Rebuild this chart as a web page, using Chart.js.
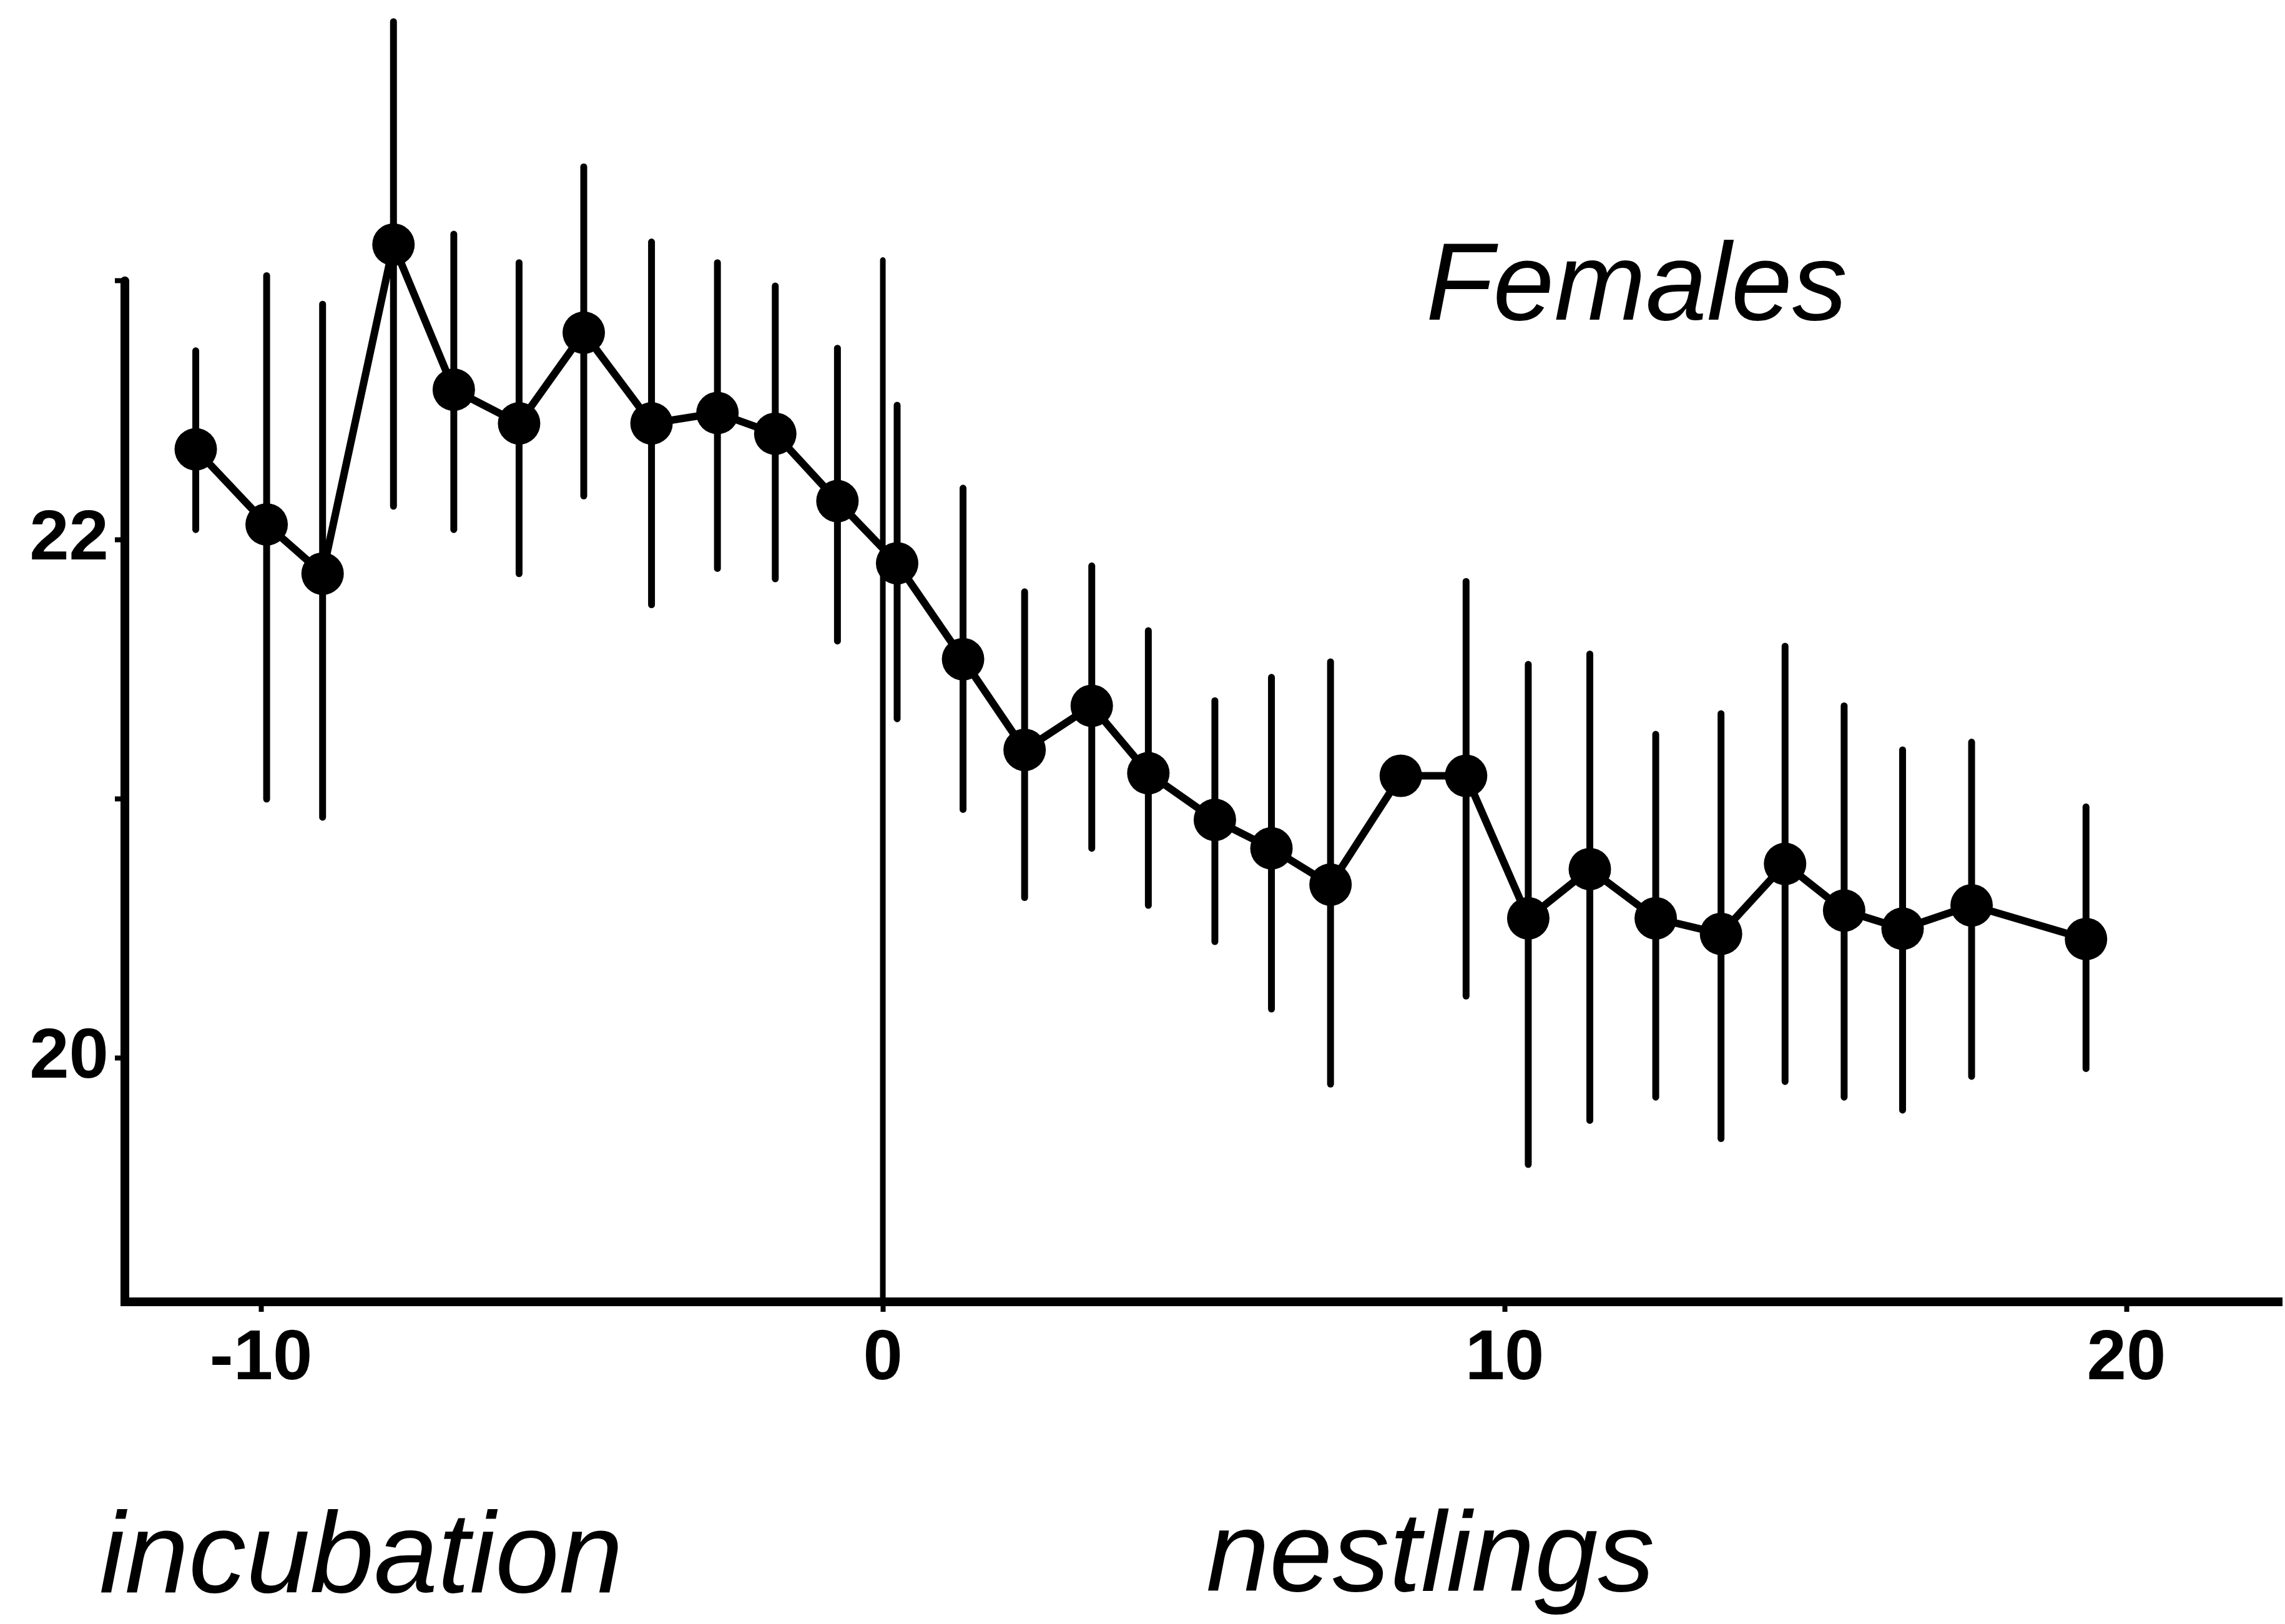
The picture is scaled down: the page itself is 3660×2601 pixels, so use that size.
<!DOCTYPE html>
<html>
<head>
<meta charset="utf-8">
<script src="https://cdn.jsdelivr.net/npm/chart.js@4.4.1/dist/chart.umd.min.js"></script>
<style>
  body { margin: 0; background: #fff; }
  canvas { display: block; }
</style>
</head>
<body>
<canvas id="femalesChart" width="3660" height="2601"></canvas>
<script>
// day relative to hatching, mean value, and upper / lower end of the bar
const days = [-11.05, -9.91, -9.01, -7.87, -6.90, -5.85, -4.81, -3.72, -2.66, -1.73, -0.73,
  0.23, 1.29, 2.28, 3.36, 4.27, 5.34, 6.25, 7.20, 8.33, 9.38, 10.38, 11.37, 12.43, 13.48,
  14.51, 15.46, 16.40, 17.51, 19.35];
const means = [22.35, 22.06, 21.87, 23.14, 22.58, 22.45, 22.80, 22.45, 22.49, 22.41, 22.15,
  21.91, 21.54, 21.19, 21.36, 21.10, 20.92, 20.81, 20.67, 21.09, 21.09, 20.54, 20.73, 20.54,
  20.48, 20.75, 20.57, 20.50, 20.59, 20.46];
const upper = [22.73, 23.02, 22.91, 24.00, 23.18, 23.07, 23.44, 23.15, 23.07, 22.98, 22.74,
  22.52, 22.20, 21.80, 21.90, 21.65, 21.38, 21.47, 21.53, null, 21.84, 21.52, 21.56, 21.25,
  21.33, 21.59, 21.36, 21.19, 21.22, 20.97];
const lower = [22.04, 21.00, 20.93, 22.13, 22.04, 21.87, 22.17, 21.75, 21.89, 21.85, 21.61,
  21.31, 20.96, 20.62, 20.81, 20.59, 20.45, 20.19, 19.90, null, 20.24, 19.59, 19.76, 19.85,
  19.69, 19.91, 19.85, 19.80, 19.93, 19.96];

const xTicks = [-10, 0, 10, 20];
const yTicks = [20, 21, 22, 23];
const yLabelled = [20, 22];
const dividerTop = 23.08; // top of the hatching line at day 0

const tickFont = {
  family: "'Liberation Sans Narrow', 'Arial Narrow', 'Liberation Sans', Arial, sans-serif",
  size: 114,
  weight: 'bold',
};

const extrasPlugin = {
  id: 'extras',
  beforeDatasetsDraw(chart) {
    const { ctx, scales: { x, y } } = chart;
    ctx.save();
    ctx.strokeStyle = '#000';
    ctx.lineCap = 'round';

    // y axis only runs up to the last tick
    ctx.lineWidth = 14;
    ctx.beginPath();
    ctx.moveTo(x.left, y.getPixelForValue(yTicks[yTicks.length - 1]));
    ctx.lineTo(x.left, y.bottom);
    ctx.stroke();

    // hatching line
    ctx.lineWidth = 9;
    ctx.beginPath();
    ctx.moveTo(x.getPixelForValue(0), y.bottom);
    ctx.lineTo(x.getPixelForValue(0), y.getPixelForValue(dividerTop));
    ctx.stroke();

    // error bars
    ctx.lineWidth = 11;
    days.forEach((d, i) => {
      if (upper[i] == null) return;
      const px = x.getPixelForValue(d);
      ctx.beginPath();
      ctx.moveTo(px, y.getPixelForValue(upper[i]));
      ctx.lineTo(px, y.getPixelForValue(lower[i]));
      ctx.stroke();
    });
    ctx.restore();
  },
  afterDraw(chart) {
    const { ctx } = chart;
    ctx.save();
    ctx.fillStyle = '#000';
    ctx.textBaseline = 'alphabetic';
    ctx.textAlign = 'left';
    ctx.font = "italic 176px 'Liberation Sans', Arial, sans-serif";
    ctx.fillText('Females', 2284, 512);
    ctx.font = "italic 184px 'Liberation Sans', Arial, sans-serif";
    ctx.fillText('incubation', 159, 2550);
    ctx.font = "italic 182px 'Liberation Sans', Arial, sans-serif";
    ctx.fillText('nestlings', 1932, 2548);
    ctx.restore();
  },
};

const ctx = document.getElementById('femalesChart').getContext('2d');
new Chart(ctx, {
  type: 'scatter',
  data: {
    datasets: [
      {
        label: 'Females',
        data: days.map((d, i) => ({ x: d, y: means[i] })),
        showLine: true,
        borderColor: '#000',
        borderWidth: 12,
        backgroundColor: '#000',
        pointRadius: 34,
        pointBorderWidth: 0,
        pointBackgroundColor: '#000',
        tension: 0,
      },
    ],
  },
  options: {
    responsive: false,
    animation: false,
    layout: { autoPadding: false, padding: { top: 14, right: 5, left: 0, bottom: 0 } },
    plugins: {
      legend: { display: false },
      tooltip: { enabled: false },
    },
    scales: {
      x: {
        type: 'linear',
        min: -12.19,
        max: 22.5,
        afterFit: s => {
          s.height = 516;
          s.paddingLeft = 0;
          s.paddingRight = 0;
        },
        afterBuildTicks: s => { s.ticks = xTicks.map(v => ({ value: v })); },
        grid: { drawOnChartArea: false, drawTicks: true, tickLength: 16, tickWidth: 8, tickColor: '#000' },
        border: { display: true, color: '#000', width: 14 },
        ticks: { color: '#000', font: tickFont, padding: 8, maxRotation: 0, autoSkip: false },
      },
      y: {
        type: 'linear',
        min: 19.06,
        max: 24.05,
        afterFit: s => {
          s.width = 200;
          s.paddingTop = 0;
          s.paddingBottom = 0;
        },
        afterBuildTicks: s => { s.ticks = yTicks.map(v => ({ value: v })); },
        grid: { drawOnChartArea: false, drawTicks: true, tickLength: 16, tickWidth: 8, tickColor: '#000' },
        border: { display: false },
        ticks: {
          color: '#000',
          font: tickFont,
          padding: 10,
          autoSkip: false,
          callback: v => (yLabelled.includes(v) ? String(v) : ''),
        },
      },
    },
  },
  plugins: [extrasPlugin],
});
</script>
</body>
</html>
